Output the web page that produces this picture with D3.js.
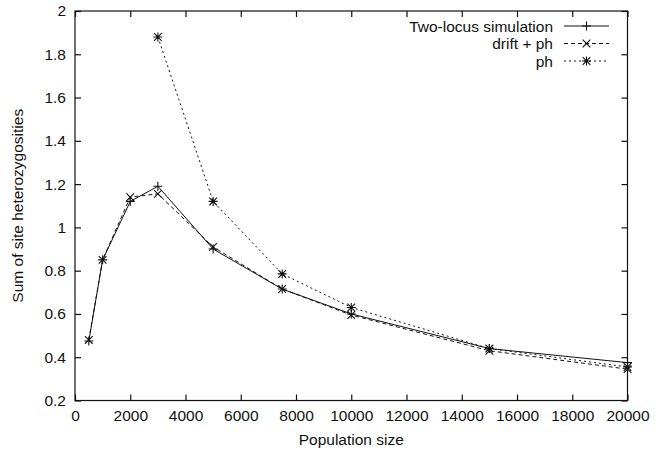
<!DOCTYPE html>
<html>
<head>
<meta charset="utf-8">
<script src="https://cdn.jsdelivr.net/npm/d3@7"></script>
<style>
	body { margin: 0; background: #fff; }
	text { font-family: "Liberation Sans", Arial, sans-serif; fill: #111; }
</style>
</head>
<body>
<script>
	// population sizes
	var popSizes = [500, 1000, 2000, 3000, 5000, 7500, 10000, 15000, 20000];
	var simValues = [0.475, 0.85, 1.12, 1.19, 0.90, 0.715, 0.60, 0.44, 0.375];
	var driftValues = [0.48, 0.85, 1.14, 1.155, 0.91, 0.715, 0.595, 0.43, 0.345];
	var phSizes = [3000, 5000, 7500, 10000, 15000, 20000];
	var phValues = [1.88, 1.12, 0.785, 0.63, 0.44, 0.355];

	var xTicks = [0, 2000, 4000, 6000, 8000, 10000, 12000, 14000, 16000, 18000, 20000];
	var yTicks = [0.2, 0.4, 0.6, 0.8, 1, 1.2, 1.4, 1.6, 1.8, 2];

	var seriesNames = ["Two-locus simulation", "drift + ph", "ph"];

	var width = 661,
		height = 451;
	var margin = {top: 11, right: 33.5, bottom: 50.5, left: 75};
	var fontSize = "15.5px";

	var svg = d3.select("body").append("svg")
		.attr("width", width)
		.attr("height", height);

	var x = d3.scaleLinear().domain([0, 20000]).range([margin.left, width - margin.right]);
	var y = d3.scaleLinear().domain([0.2, 2]).range([height - margin.bottom, margin.top]);

	var series = [
		{name: seriesNames[0], xs: popSizes, ys: simValues, dash: null, marker: "plus"},
		{name: seriesNames[1], xs: popSizes, ys: driftValues, dash: "4,3", marker: "cross"},
		{name: seriesNames[2], xs: phSizes, ys: phValues, dash: "2,3", marker: "star"}
	];

	// frame
	svg.append("rect")
		.attr("x", x(0))
		.attr("y", y(2))
		.attr("width", x(20000) - x(0))
		.attr("height", y(0.2) - y(2))
			.style("fill", "none")
			.style("stroke", "#111")
			.style("stroke-width", 1.2);

	// inward ticks (gnuplot style, mirrored)
	var tickLen = 6;
	var bottomAxis = d3.axisBottom(x).tickValues(xTicks).tickSizeInner(-tickLen).tickSizeOuter(0).tickPadding(9)
		.tickFormat(d3.format("d"));
	var topAxis = d3.axisTop(x).tickValues(xTicks).tickSizeInner(-tickLen).tickSizeOuter(0).tickFormat("");
	var leftAxis = d3.axisLeft(y).tickValues(yTicks).tickSizeInner(-tickLen).tickSizeOuter(0).tickPadding(9)
		.tickFormat(function(d) { return String(+d.toFixed(1)); });
	var rightAxis = d3.axisRight(y).tickValues(yTicks).tickSizeInner(-tickLen).tickSizeOuter(0).tickFormat("");

	function styleAxis(g) {
		g.select(".domain").remove();
		g.selectAll("line").style("stroke", "#111").style("stroke-width", 1.2);
		g.selectAll("text")
			.style("font-family", "Liberation Sans, Arial, sans-serif")
			.style("font-size", fontSize)
			.style("fill", "#111");
	}

	svg.append("g").attr("transform", "translate(0," + y(0.2) + ")").call(bottomAxis).call(styleAxis);
	svg.append("g").attr("transform", "translate(0," + y(2) + ")").call(topAxis).call(styleAxis);
	svg.append("g").attr("transform", "translate(" + x(0) + ",0)").call(leftAxis).call(styleAxis);
	svg.append("g").attr("transform", "translate(" + x(20000) + ",0)").call(rightAxis).call(styleAxis);

	// axis titles
	svg.append("text")
		.attr("x", (x(0) + x(20000)) / 2)
		.attr("y", height - 6)
		.attr("text-anchor", "middle")
			.style("font-size", fontSize)
		.text("Population size");

	svg.append("text")
		.attr("transform", "translate(23," + (y(2) + y(0.2)) / 2 + ") rotate(-90)")
		.attr("text-anchor", "middle")
			.style("font-size", fontSize)
		.text("Sum of site heterozygosities");

	function drawMarker(g, type, cx, cy) {
		var s = 4.5;
		var path = "";
		if (type === "plus" || type === "star") {
			path += "M" + (cx - s) + "," + cy + "H" + (cx + s) + "M" + cx + "," + (cy - s) + "V" + (cy + s);
		}
		if (type === "cross" || type === "star") {
			var c = s * 0.85;
			path += "M" + (cx - c) + "," + (cy - c) + "L" + (cx + c) + "," + (cy + c);
			path += "M" + (cx - c) + "," + (cy + c) + "L" + (cx + c) + "," + (cy - c);
		}
		g.append("path")
			.attr("d", path)
				.style("fill", "none")
				.style("stroke", "#111")
				.style("stroke-width", 1.1);
	}

	var line = d3.line()
		.x(function(d) { return x(d[0]); })
		.y(function(d) { return y(d[1]); });

	series.forEach(function(s) {
		var pts = s.xs.map(function(v, i) { return [v, s.ys[i]]; });
		var g = svg.append("g");
		g.append("path")
			.datum(pts)
			.attr("d", line)
				.style("fill", "none")
				.style("stroke", "#111")
				.style("stroke-width", 1)
				.style("stroke-dasharray", s.dash);
		pts.forEach(function(p) {
			drawMarker(g, s.marker, x(p[0]), y(p[1]));
		});
	});

	// legend
	var legX = 564, legX2 = 609, legY = 26, legStep = 17.5;
	series.forEach(function(s, i) {
		var ly = legY + i * legStep;
		svg.append("text")
			.attr("x", legX - 11)
			.attr("y", ly + 5.5)
			.attr("text-anchor", "end")
				.style("font-size", fontSize)
			.text(s.name);
		var g = svg.append("g");
		g.append("line")
			.attr("x1", legX)
			.attr("x2", legX2)
			.attr("y1", ly)
			.attr("y2", ly)
				.style("stroke", "#111")
				.style("stroke-width", 1)
				.style("stroke-dasharray", s.dash);
		drawMarker(g, s.marker, (legX + legX2) / 2, ly);
	});
</script>
</body>
</html>
